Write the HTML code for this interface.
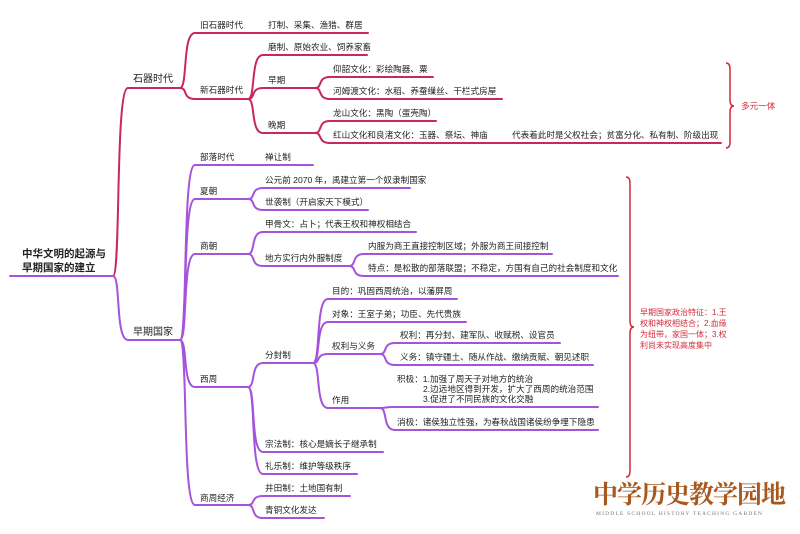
<!DOCTYPE html>
<html><head><meta charset="utf-8"><style>
body{margin:0;background:#fff}
svg text{font-family:"Liberation Sans","Noto Sans CJK SC",sans-serif;font-size:8.6px;fill:#222}
</style></head><body>
<svg width="800" height="529" viewBox="0 0 800 529" xmlns="http://www.w3.org/2000/svg">
<rect width="800" height="529" fill="#fff"/>
<g fill="none" stroke="#c8285c" stroke-width="2" stroke-linecap="round">
<path d="M113 276 C121 276 115 88 128 88 L180 88"/>
<path d="M180 88 C188 88 182 33 195 33 L368 33"/>
<path d="M180 88 C188 88 182 99 195 99 L248 99"/>
<path d="M248 99 C256 99 250 55 263 55 L367 55"/>
<path d="M248 99 C256 99 250 88 263 88 L315 88"/>
<path d="M248 99 C256 99 250 133 263 133 L315 133"/>
<path d="M315 88 C323 88 317 77 330 77 L433 77"/>
<path d="M315 88 C323 88 317 99 330 99 L502 99"/>
<path d="M315 133 C323 133 317 121 330 121 L436 121"/>
<path d="M315 133 C323 133 317 143 330 143 L721 143"/>
</g>
<g fill="none" stroke="#d42a3a" stroke-width="1.5">
<path d="M726 63 Q730 63 730 69 L730 100 Q730 106 734 106 Q730 106 730 112 L730 142 Q730 148 726 148"/>
<path d="M626 177 Q630 177 630 183 L630 321 Q630 327 634 327 Q630 327 630 333 L630 471 Q630 477 626 477"/>
</g>
<g fill="none" stroke="#a552dc" stroke-width="2" stroke-linecap="round">
<path d="M10 276 L113 276"/>
<path d="M113 276 C121 276 115 340 128 340 L180 340"/>
<path d="M180 340 C188 340 182 165 195 165 L313 165"/>
<path d="M180 340 C188 340 182 199 195 199 L248 199"/>
<path d="M180 340 C188 340 182 254 195 254 L248 254"/>
<path d="M180 340 C188 340 182 387 195 387 L248 387"/>
<path d="M180 340 C188 340 182 505 195 505 L248 505"/>
<path d="M248 199 C256 199 250 188 263 188 L410 188"/>
<path d="M248 199 C256 199 250 210 263 210 L368 210"/>
<path d="M248 254 C256 254 250 232 263 232 L416 232"/>
<path d="M248 254 C256 254 250 266 263 266 L349 266"/>
<path d="M349 266 C357 266 351 254 364 254 L552 254"/>
<path d="M349 266 C357 266 351 276 364 276 L618 276"/>
<path d="M248 387 C256 387 250 363 263 363 L313 363"/>
<path d="M248 387 C256 387 250 452 263 452 L383 452"/>
<path d="M248 387 C256 387 250 474 263 474 L357 474"/>
<path d="M313 363 C321 363 315 299 328 299 L457 299"/>
<path d="M313 363 C321 363 315 322 328 322 L466 322"/>
<path d="M313 363 C321 363 315 354 328 354 L380 354"/>
<path d="M313 363 C321 363 315 408 328 408 L380 408"/>
<path d="M380 354 C388 354 382 343 395 343 L560 343"/>
<path d="M380 354 C388 354 382 365 395 365 L593 365"/>
<path d="M380 408 C388 408 382 407 395 407 L598 407"/>
<path d="M380 408 C388 408 382 430 395 430 L598 430"/>
<path d="M248 505 C256 505 250 496 263 496 L350 496"/>
<path d="M248 505 C256 505 250 518 263 518 L324 518"/>
</g>
<text x="22" y="257" style="font-size:10.5px;font-weight:bold">中华文明的起源与</text>
<text x="22" y="271" style="font-size:10.5px;font-weight:bold">早期国家的建立</text>
<text x="133" y="82" style="font-size:10px">石器时代</text>
<text x="133" y="335" style="font-size:10px">早期国家</text>
<text x="200" y="28">旧石器时代</text><text x="268" y="28">打制、采集、渔猎、群居</text>
<text x="200" y="93">新石器时代</text>
<text x="268" y="50">磨制、原始农业、饲养家畜</text>
<text x="268" y="83">早期</text><text x="268" y="128">晚期</text>
<text x="333" y="72">仰韶文化：彩绘陶器、粟</text>
<text x="333" y="94">河姆渡文化：水稻、养蚕缫丝、干栏式房屋</text>
<text x="333" y="116">龙山文化：黑陶（蛋壳陶）</text>
<text x="333" y="138">红山文化和良渚文化：玉器、祭坛、神庙</text>
<text x="512" y="138">代表着此时是父权社会；贫富分化、私有制、阶级出现</text>
<text x="741" y="109" style="fill:#d42a3a">多元一体</text>
<text x="200" y="160">部落时代</text><text x="265" y="160">禅让制</text>
<text x="200" y="194">夏朝</text>
<text x="265" y="183">公元前 2070 年，禹建立第一个奴隶制国家</text>
<text x="265" y="205">世袭制（开启家天下模式）</text>
<text x="200" y="249">商朝</text>
<text x="265" y="227">甲骨文：占卜；代表王权和神权相结合</text>
<text x="265" y="261">地方实行内外服制度</text>
<text x="368" y="249">内服为商王直接控制区域；外服为商王间接控制</text>
<text x="368" y="271">特点：是松散的部落联盟；不稳定，方国有自己的社会制度和文化</text>
<text x="200" y="382">西周</text>
<text x="265" y="358">分封制</text>
<text x="332" y="294">目的：巩固西周统治，以藩屏周</text>
<text x="332" y="317">对象：王室子弟；功臣、先代贵族</text>
<text x="332" y="349">权利与义务</text>
<text x="332" y="403">作用</text>
<text x="400" y="338">权利：再分封、建军队、收赋税、设官员</text>
<text x="400" y="360">义务：镇守疆土、随从作战、缴纳贡赋、朝见述职</text>
<text x="397" y="382">积极：1.加强了周天子对地方的统治</text>
<text x="423" y="392">2.边远地区得到开发，扩大了西周的统治范围</text>
<text x="423" y="402">3.促进了不同民族的文化交融</text>
<text x="397" y="425">消极：诸侯独立性强，为春秋战国诸侯纷争埋下隐患</text>
<text x="265" y="447">宗法制：核心是嫡长子继承制</text>
<text x="265" y="469">礼乐制：维护等级秩序</text>
<text x="200" y="501">商周经济</text>
<text x="265" y="491">井田制：土地国有制</text>
<text x="265" y="513">青铜文化发达</text>
<text x="640" y="315" style="fill:#d42a3a;font-size:8px">早期国家政治特征：1.王</text>
<text x="640" y="326" style="fill:#d42a3a;font-size:8px">权和神权相结合；2.血缘</text>
<text x="640" y="337" style="fill:#d42a3a;font-size:8px">为纽带，家国一体；3.权</text>
<text x="640" y="348" style="fill:#d42a3a;font-size:8px">利尚未实现高度集中</text>
<text x="593" y="503" style="font-family:'Liberation Serif','Noto Serif CJK SC',serif;font-size:25px;font-weight:bold;fill:#a8581c;letter-spacing:-1px">中学历史教学园地</text>
<text x="596" y="515" style="font-family:'Liberation Serif',serif;font-size:5.5px;fill:#777;letter-spacing:1.2px">MIDDLE SCHOOL HISTORY TEACHING GARDEN</text>
</svg>
</body></html>
